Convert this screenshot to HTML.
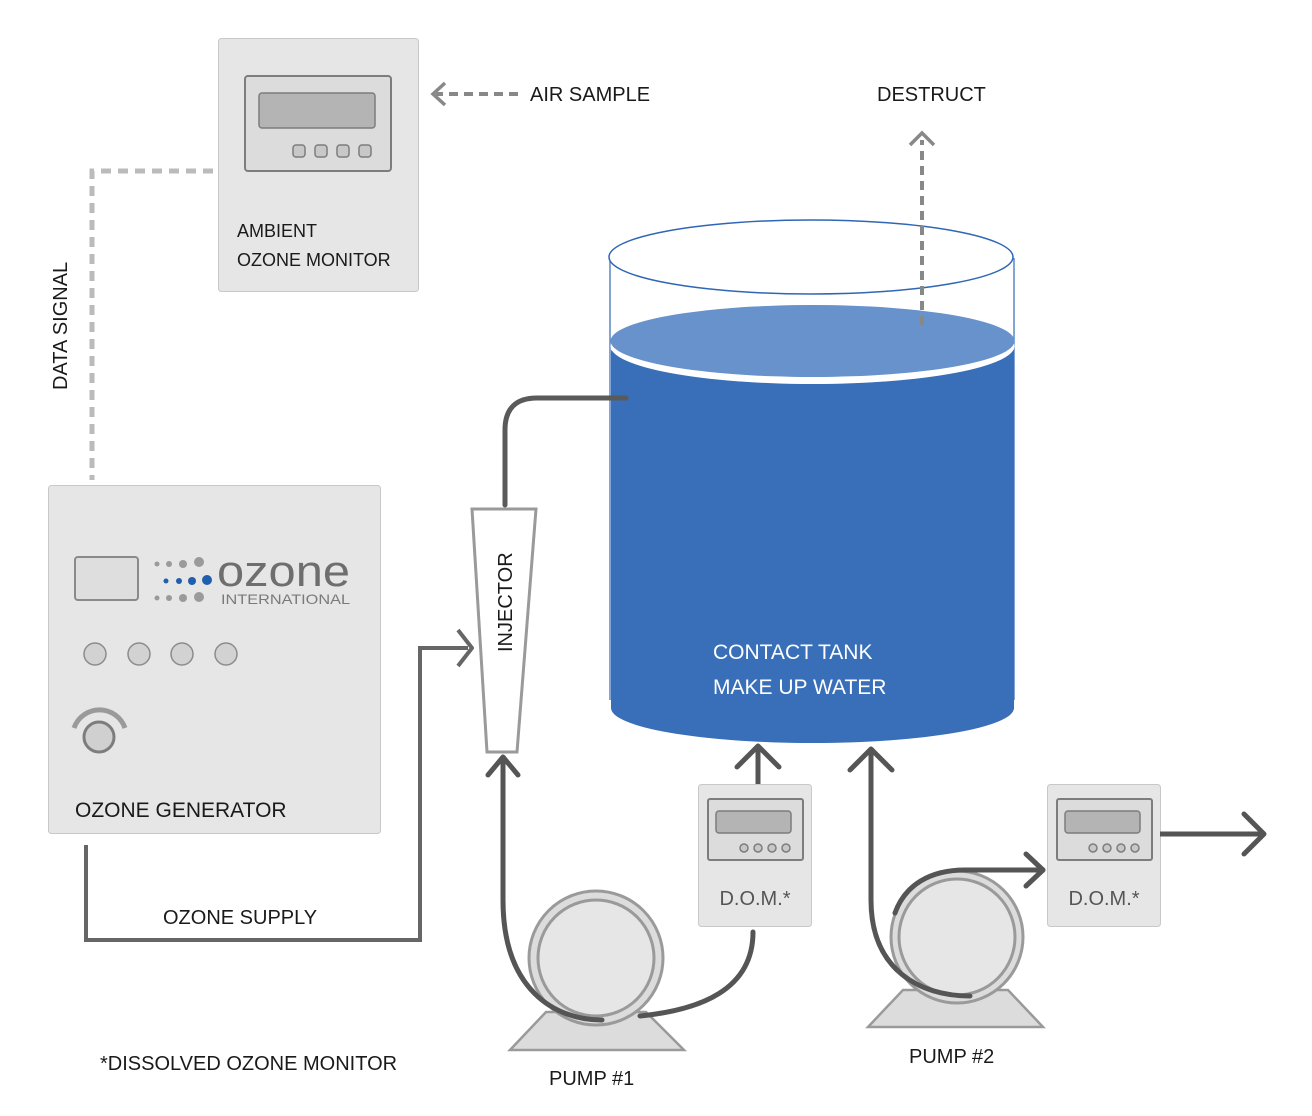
<!DOCTYPE html>
<html><head><meta charset="utf-8"><style>
html,body{margin:0;padding:0;background:#fff;}
svg{display:block;}
text{font-family:"Liberation Sans",sans-serif;fill:#1a1a1a;}
</style></head><body>
<svg width="1312" height="1116" viewBox="0 0 1312 1116" xmlns="http://www.w3.org/2000/svg">
<!-- Ambient monitor -->
<rect x="218.5" y="38.5" width="200" height="253" rx="3" fill="#e6e6e6" stroke="#c8c8c8"/>
<rect x="245" y="76" width="146" height="95" rx="3" fill="#dcdcdc" stroke="#7d7d7d" stroke-width="2"/>
<rect x="259" y="93" width="116" height="35" rx="3" fill="#b4b4b4" stroke="#7d7d7d" stroke-width="1.5"/>
<g fill="#c8c8c8" stroke="#7d7d7d" stroke-width="1.5">
<rect x="293" y="145" width="12" height="12" rx="3"/><rect x="315" y="145" width="12" height="12" rx="3"/><rect x="337" y="145" width="12" height="12" rx="3"/><rect x="359" y="145" width="12" height="12" rx="3"/>
</g>
<text x="237" y="237" font-size="18">AMBIENT</text>
<text x="237" y="266" font-size="18">OZONE MONITOR</text>
<!-- Air sample -->
<line x1="518" y1="94" x2="436" y2="94" stroke="#888" stroke-width="4" stroke-dasharray="9,6"/>
<polyline points="445,83 433,94 445,105" fill="none" stroke="#888" stroke-width="3.5"/>
<text x="530" y="101" font-size="20">AIR SAMPLE</text>
<!-- Data signal -->
<polyline points="213,171 92,171 92,480" fill="none" stroke="#bbb" stroke-width="5" stroke-dasharray="10,7"/>
<text transform="translate(67,390) rotate(-90)" font-size="20">DATA SIGNAL</text>
<!-- Generator -->
<rect x="48.5" y="485.5" width="332" height="348" rx="3" fill="#e6e6e6" stroke="#c8c8c8"/>
<rect x="75" y="557" width="63" height="43" rx="3" fill="#dedede" stroke="#8a8a8a" stroke-width="2"/>
<g fill="#9a9a9a">
<circle cx="157" cy="564" r="2.5"/><circle cx="169" cy="564" r="3"/><circle cx="183" cy="564" r="4"/><circle cx="199" cy="562" r="5"/>
<circle cx="157" cy="598" r="2.5"/><circle cx="169" cy="598" r="3"/><circle cx="183" cy="598" r="4"/><circle cx="199" cy="597" r="5"/>
</g>
<g fill="#1f5fae">
<circle cx="166" cy="581" r="2.5"/><circle cx="179" cy="581" r="3"/><circle cx="192" cy="581" r="4"/><circle cx="207" cy="580" r="5"/>
</g>
<text x="217" y="586" font-size="44" style="fill:#6e6e6e" textLength="133" lengthAdjust="spacingAndGlyphs">ozone</text>
<text x="221" y="604" font-size="14" style="fill:#7a7a7a" textLength="129" lengthAdjust="spacingAndGlyphs">INTERNATIONAL</text>
<g fill="#d2d2d2" stroke="#8c8c8c" stroke-width="1.5">
<circle cx="95" cy="654" r="11"/><circle cx="139" cy="654" r="11"/><circle cx="182" cy="654" r="11"/><circle cx="226" cy="654" r="11"/>
</g>
<path d="M74,728 A27,27 0 0 1 125,728" fill="none" stroke="#9a9a9a" stroke-width="5"/>
<circle cx="99" cy="737" r="15" fill="#d0d0d0" stroke="#7d7d7d" stroke-width="3"/>
<text x="75" y="817" font-size="21">OZONE GENERATOR</text>
<!-- Ozone supply -->
<polyline points="86,845 86,940 420,940 420,648 468,648" fill="none" stroke="#666" stroke-width="4"/>
<polyline points="458,630 472,648 458,666" fill="none" stroke="#666" stroke-width="4" stroke-linejoin="round"/>
<text x="163" y="924" font-size="20">OZONE SUPPLY</text>
<!-- Tank -->
<line x1="610" y1="258" x2="610" y2="700" stroke="#5a86c8" stroke-width="1.5"/>
<line x1="1014" y1="258" x2="1014" y2="700" stroke="#5a86c8" stroke-width="1.5"/>
<ellipse cx="811" cy="257" rx="202" ry="37" fill="#fff" stroke="#2f66b5" stroke-width="1.5"/>
<rect x="611" y="352" width="403" height="356" fill="#386fb8"/>
<ellipse cx="812.5" cy="708" rx="201.5" ry="35" fill="#386fb8"/>
<ellipse cx="812.5" cy="352" rx="201.5" ry="37" fill="#386fb8"/>
<ellipse cx="812.5" cy="346" rx="202" ry="38" fill="#fff"/>
<ellipse cx="812.5" cy="341" rx="202" ry="36" fill="#6792cb"/>
<line x1="922" y1="325" x2="922" y2="140" stroke="#888" stroke-width="4" stroke-dasharray="9,6"/>
<polyline points="910,145 922,133 934,145" fill="none" stroke="#888" stroke-width="3.5"/>
<text x="877" y="101" font-size="20">DESTRUCT</text>
<text x="713" y="659" font-size="21" style="fill:#fff">CONTACT TANK</text>
<text x="713" y="694" font-size="21" style="fill:#fff">MAKE UP WATER</text>
<!-- Injector -->
<path d="M505,505 L505,430 Q505,398 537,398 L626,398" fill="none" stroke="#5a5a5a" stroke-width="5" stroke-linecap="round"/>
<polygon points="472,509 536,509 517,752 487,752" fill="#fff" stroke="#9a9a9a" stroke-width="3"/>
<text transform="translate(512,652) rotate(-90)" font-size="20">INJECTOR</text>
<!-- Pump 1 -->
<polygon points="510,1050 684,1050 646,1012 546,1012" fill="#dcdcdc" stroke="#9a9a9a" stroke-width="2.5"/>
<circle cx="596" cy="958" r="67" fill="#dcdcdc" stroke="#9a9a9a" stroke-width="3"/>
<circle cx="596" cy="958" r="58" fill="#e6e6e6" stroke="#9a9a9a" stroke-width="3"/>
<path d="M503,760 L503,900 C503,990 555,1020 602,1020" fill="none" stroke="#555" stroke-width="5" stroke-linecap="round"/>
<polyline points="488,775 503,757 518,775" fill="none" stroke="#555" stroke-width="5" stroke-linecap="round" stroke-linejoin="round"/>
<path d="M640,1016 C700,1010 753,990 753,932" fill="none" stroke="#555" stroke-width="5" stroke-linecap="round"/>
<text x="549" y="1085" font-size="20">PUMP #1</text>
<!-- DOM 1 -->
<line x1="758" y1="784" x2="758" y2="748" stroke="#555" stroke-width="5"/>
<polyline points="737,767 758,746 779,767" fill="none" stroke="#555" stroke-width="5" stroke-linecap="round" stroke-linejoin="round"/>
<rect x="698.5" y="784.5" width="113" height="142" rx="3" fill="#e6e6e6" stroke="#c8c8c8"/>
<rect x="708" y="799" width="95" height="61" rx="2" fill="#dcdcdc" stroke="#7d7d7d" stroke-width="2"/>
<rect x="716" y="811" width="75" height="22" rx="3" fill="#b4b4b4" stroke="#7d7d7d" stroke-width="1.5"/>
<g fill="#c8c8c8" stroke="#7d7d7d" stroke-width="1.5"><circle cx="744" cy="848" r="4"/><circle cx="758" cy="848" r="4"/><circle cx="772" cy="848" r="4"/><circle cx="786" cy="848" r="4"/></g>
<text x="755" y="905" font-size="20" text-anchor="middle" style="fill:#555">D.O.M.*</text>
<!-- Pump 2 -->
<polygon points="868,1027 1043,1027 1008,990 903,990" fill="#dcdcdc" stroke="#9a9a9a" stroke-width="2.5"/>
<circle cx="957" cy="937" r="66" fill="#dcdcdc" stroke="#9a9a9a" stroke-width="3"/>
<circle cx="957" cy="937" r="58" fill="#e6e6e6" stroke="#9a9a9a" stroke-width="3"/>
<path d="M871,750 L871,900 C871,970 920,996 970,996" fill="none" stroke="#555" stroke-width="5" stroke-linecap="round"/>
<polyline points="850,770 871,749 892,770" fill="none" stroke="#555" stroke-width="5" stroke-linecap="round" stroke-linejoin="round"/>
<path d="M895,913 C905,885 930,870 965,870 L1043,870" fill="none" stroke="#555" stroke-width="5" stroke-linecap="round"/>
<polyline points="1026,854 1043,870 1026,886" fill="none" stroke="#555" stroke-width="5" stroke-linecap="round" stroke-linejoin="round"/>
<text x="909" y="1063" font-size="20">PUMP #2</text>
<!-- DOM 2 -->
<rect x="1047.5" y="784.5" width="113" height="142" rx="3" fill="#e6e6e6" stroke="#c8c8c8"/>
<rect x="1057" y="799" width="95" height="61" rx="2" fill="#dcdcdc" stroke="#7d7d7d" stroke-width="2"/>
<rect x="1065" y="811" width="75" height="22" rx="3" fill="#b4b4b4" stroke="#7d7d7d" stroke-width="1.5"/>
<g fill="#c8c8c8" stroke="#7d7d7d" stroke-width="1.5"><circle cx="1093" cy="848" r="4"/><circle cx="1107" cy="848" r="4"/><circle cx="1121" cy="848" r="4"/><circle cx="1135" cy="848" r="4"/></g>
<text x="1104" y="905" font-size="20" text-anchor="middle" style="fill:#555">D.O.M.*</text>
<line x1="1160" y1="834" x2="1262" y2="834" stroke="#555" stroke-width="5"/>
<polyline points="1244,814 1264,834 1244,854" fill="none" stroke="#555" stroke-width="5" stroke-linecap="round" stroke-linejoin="round"/>
<text x="100" y="1070" font-size="20">*DISSOLVED OZONE MONITOR</text>
</svg>
</body></html>
